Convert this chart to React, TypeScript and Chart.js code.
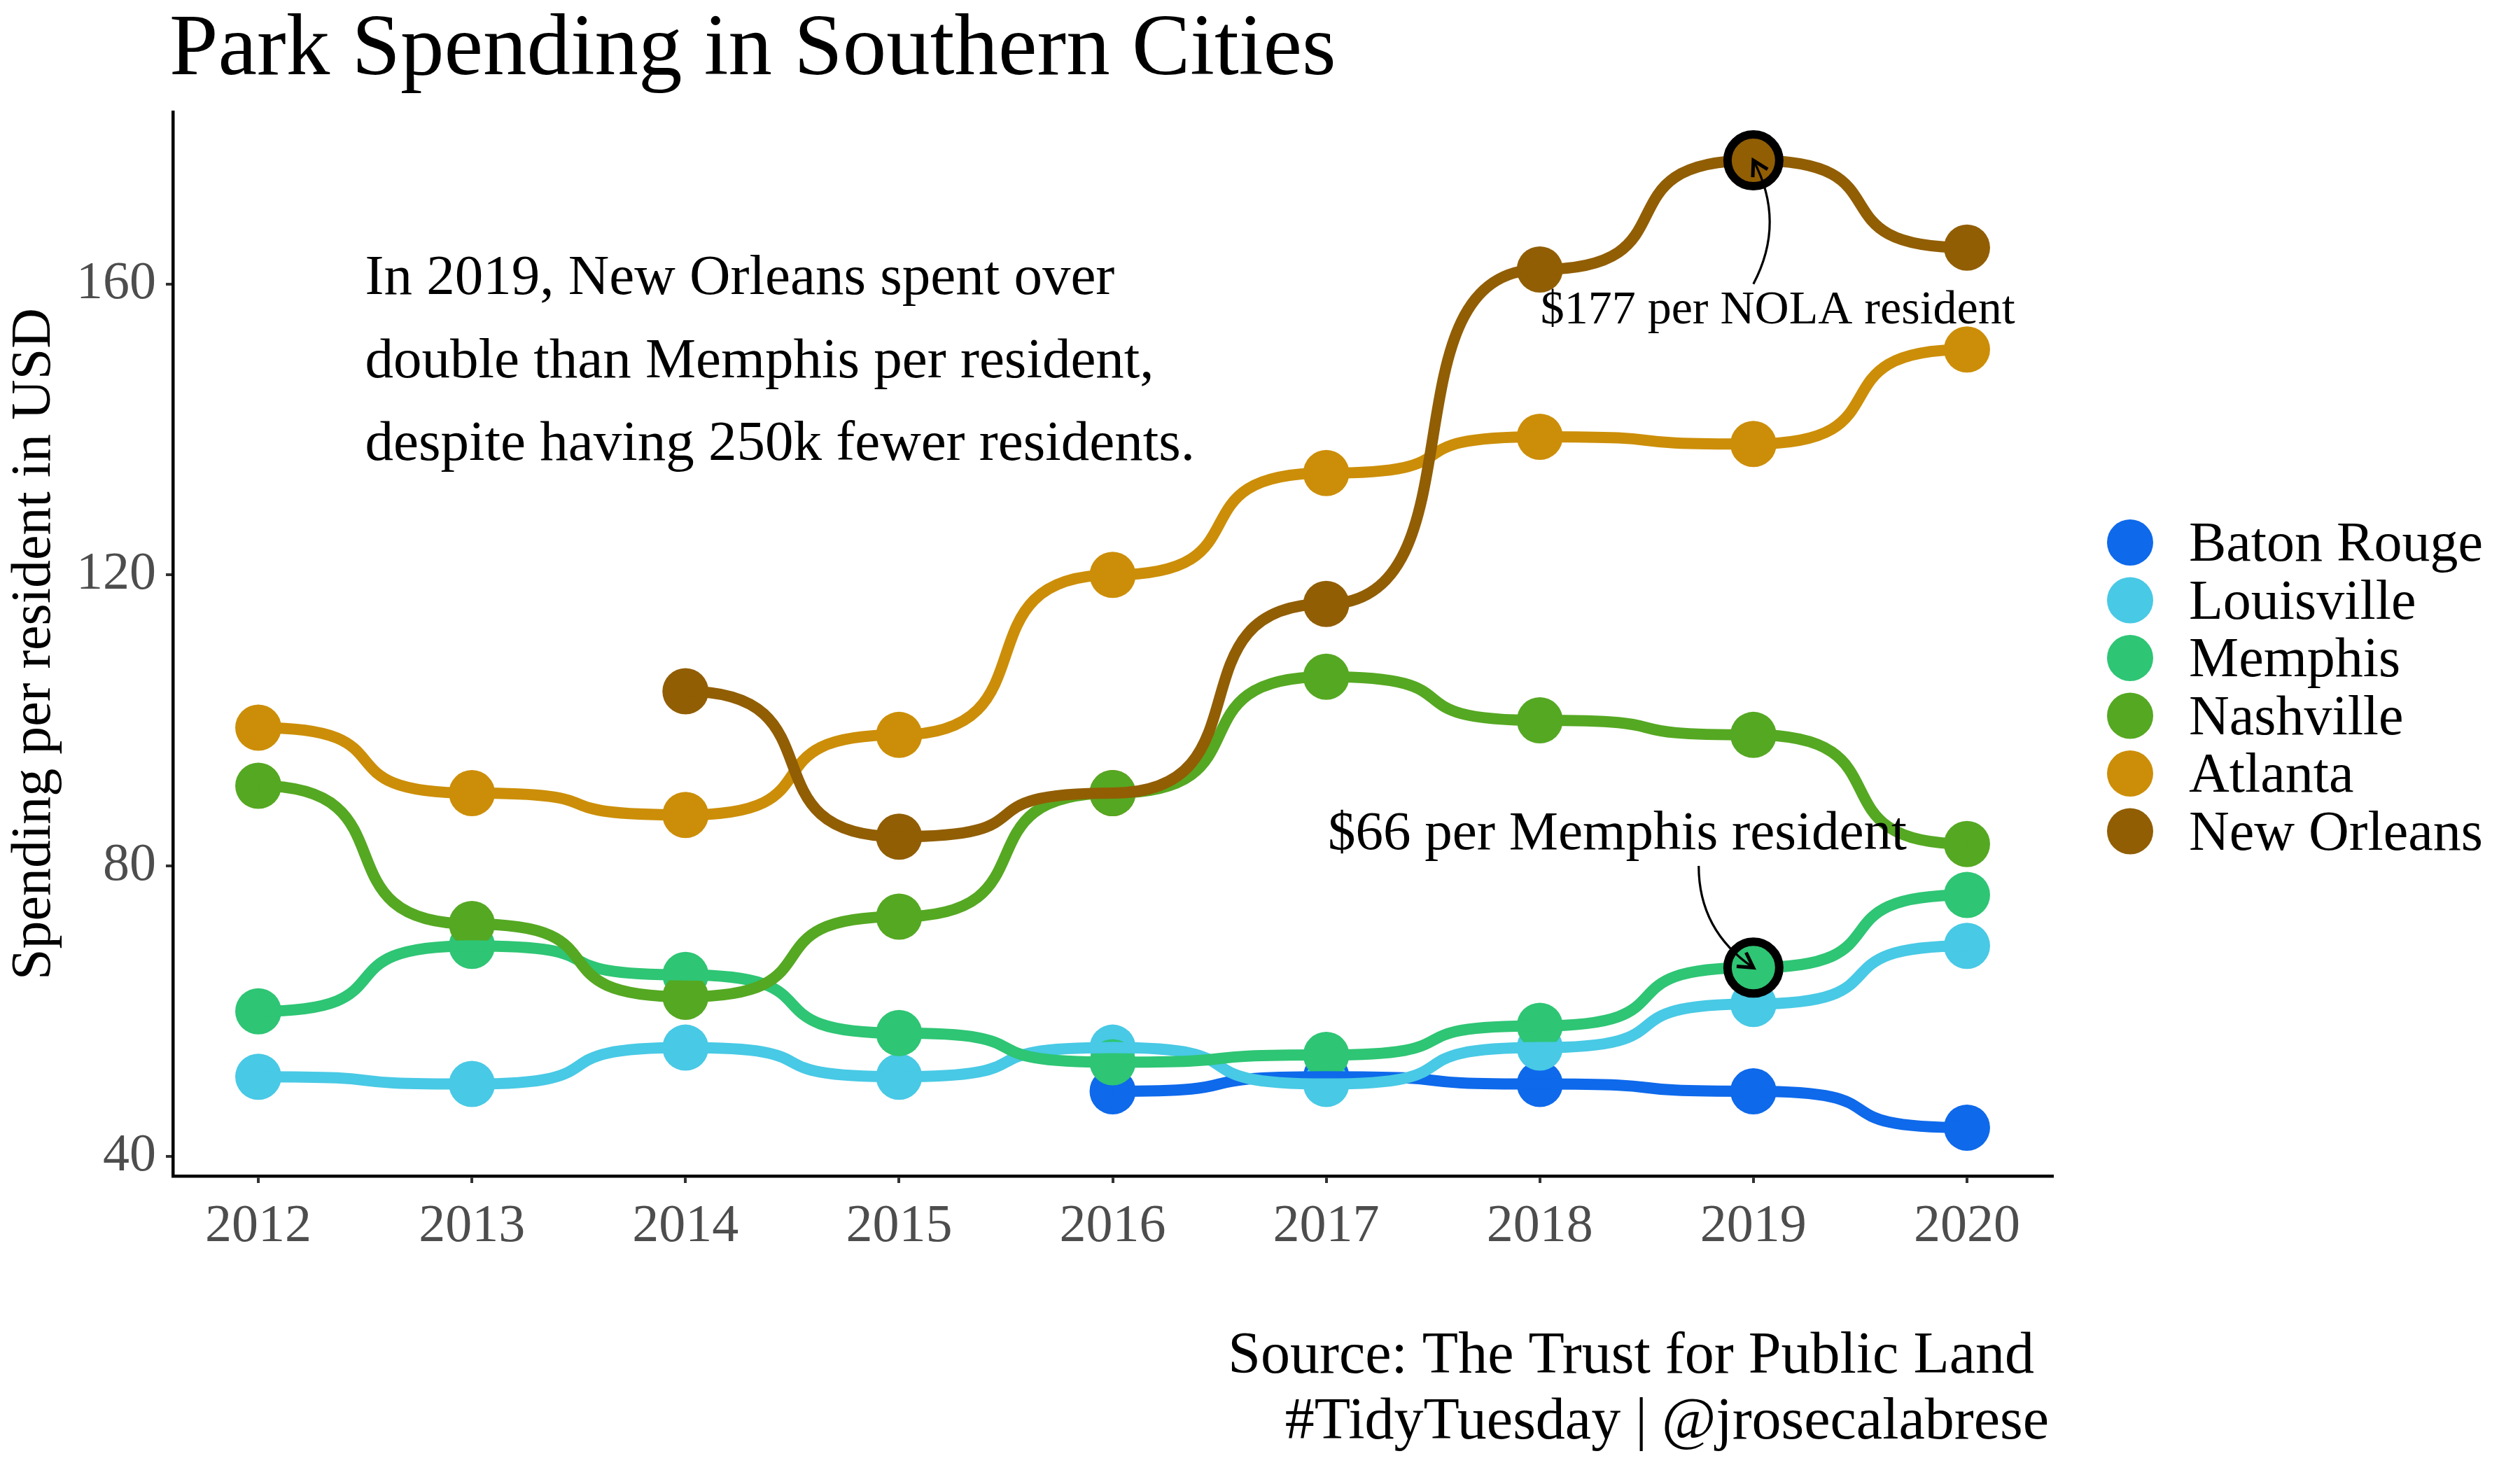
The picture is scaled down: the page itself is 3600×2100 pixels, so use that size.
import React, { useEffect, useRef } from "react";
import { Chart, registerables } from "chart.js";
Chart.register(...registerables);

// ---------- data ----------
const years = [2012, 2013, 2014, 2015, 2016, 2017, 2018, 2019, 2020];
const cities = ["Baton Rouge", "Louisville", "Memphis", "Nashville", "Atlanta", "New Orleans"];
const cityColors = ["#0E69EB", "#48C9E5", "#2EC574", "#55A822", "#CC8E08", "#915E04"];
const batonRouge = [null, null, null, null, 49, 51, 50, 49, 44];
const louisville = [51, 50, 55, 51, 55, 50, 55, 61, 69];
const memphis = [60, 69, 65, 57, 53, 54, 58, 66, 76];
const nashville = [91, 72, 62, 73, 90, 106, 100, 98, 83];
const atlanta = [99, 90, 87, 98, 120, 134, 139, 138, 151];
const newOrleans = [null, null, 104, 84, 90, 116, 162, 177, 165];
const yTicks = [40, 80, 120, 160];
const highlightYear = 2019;

const series: (number | null)[][] = [batonRouge, louisville, memphis, nashville, atlanta, newOrleans];
// draw order of points (higher = further back)
const pointOrder = [10, 9, 8, 5, 7, 6];

const titleText = "Park Spending in Southern Cities";
const yTitle = "Spending per resident in USD";
const noteLines = [
  "In 2019, New Orleans spent over",
  "double than Memphis per resident,",
  "despite having 250k fewer residents.",
];
const nolaLabel = "$177 per NOLA resident";
const memphisLabel = "$66 per Memphis resident";
const captionLines = ["Source: The Trust for Public Land ", "#TidyTuesday | @jrosecalabrese"];

const FONT = '"Liberation Serif", "Times New Roman", serif';
const K = 0.75;

function P(chart: any, x: number, y: number) {
  return { x: chart.scales.x.getPixelForValue(x), y: chart.scales.y.getPixelForValue(y) };
}

function arrow(ctx: CanvasRenderingContext2D, p0: any, c: any, p1: any) {
  ctx.save();
  ctx.strokeStyle = "#000";
  ctx.lineWidth = 3.2;
  ctx.beginPath();
  ctx.moveTo(p0.x, p0.y);
  ctx.quadraticCurveTo(c.x, c.y, p1.x, p1.y);
  ctx.stroke();
  const ang = Math.atan2(p1.y - c.y, p1.x - c.x);
  const len = 24;
  const sp = Math.PI / 6;
  ctx.lineWidth = 5;
  ctx.lineJoin = "miter";
  ctx.beginPath();
  ctx.moveTo(p1.x - len * Math.cos(ang - sp), p1.y - len * Math.sin(ang - sp));
  ctx.lineTo(p1.x, p1.y);
  ctx.lineTo(p1.x - len * Math.cos(ang + sp), p1.y - len * Math.sin(ang + sp));
  ctx.stroke();
  ctx.restore();
}

const bumpLines = {
  id: "bumpLines",
  beforeDatasetDraw(chart: any, args: any) {
    if (args.index !== cities.length) return;
    const ctx = chart.ctx as CanvasRenderingContext2D;
    ctx.save();
    ctx.lineWidth = 16;
    ctx.lineCap = "butt";
    ctx.lineJoin = "round";
    series.forEach((vals, i) => {
      ctx.strokeStyle = cityColors[i];
      ctx.beginPath();
      let prev: any = null;
      years.forEach((yr, j) => {
        const v = vals[j];
        if (v == null) {
          prev = null;
          return;
        }
        const p = P(chart, yr, v);
        if (!prev) ctx.moveTo(p.x, p.y);
        else {
          const dx = p.x - prev.x;
          ctx.bezierCurveTo(prev.x + K * dx, prev.y, p.x - K * dx, p.y, p.x, p.y);
        }
        prev = p;
      });
      ctx.stroke();
    });
    ctx.restore();
  },
};

const decorations = {
  id: "decorations",
  afterDraw(chart: any) {
    const ctx = chart.ctx as CanvasRenderingContext2D;
    ctx.save();
    ctx.fillStyle = "#000";
    ctx.textBaseline = "alphabetic";

    // title
    ctx.font = `125px ${FONT}`;
    ctx.textAlign = "left";
    ctx.fillText(titleText, 242, 106);

    // note paragraph
    ctx.font = `81px ${FONT}`;
    const np = P(chart, 2012.5, 147.2);
    noteLines.forEach((t, i) => ctx.fillText(t, np.x, np.y + (i - 1) * 118.5));

    // annotation labels
    ctx.textAlign = "center";
    ctx.font = `68px ${FONT}`;
    const nl = P(chart, 2019.114, 154.6);
    ctx.fillText(nolaLabel, nl.x, nl.y);
    ctx.font = `79px ${FONT}`;
    const ml = P(chart, 2018.363, 82.3);
    ctx.fillText(memphisLabel, ml.x, ml.y);

    // arrows
    const hi = years.indexOf(highlightYear);
    arrow(ctx, P(chart, 2019.0, 160), P(chart, 2019.153, 168.5), P(chart, highlightYear, newOrleans[hi] as number));
    arrow(ctx, P(chart, 2018.744, 80), P(chart, 2018.744, 71.1), P(chart, highlightYear, memphis[hi] as number));

    // caption
    ctx.textAlign = "right";
    ctx.font = `84px ${FONT}`;
    ctx.fillText(captionLines[0], 2927, 1961);
    ctx.fillText(captionLines[1], 2927, 2055);

    // legend
    ctx.textAlign = "left";
    ctx.font = `80px ${FONT}`;
    cities.forEach((c, i) => {
      const cy = 775 + i * 82.5;
      ctx.fillStyle = cityColors[i];
      ctx.beginPath();
      ctx.arc(3043, cy, 33, 0, Math.PI * 2);
      ctx.fill();
      ctx.fillStyle = "#000";
      ctx.fillText(c, 3127, cy + 26);
    });
    ctx.restore();
  },
};

export default function App() {
  const ref = useRef<HTMLCanvasElement>(null);
  useEffect(() => {
    const canvas = ref.current!;
    const hi = years.indexOf(highlightYear);
    const datasets: any[] = series.map((vals, i) => ({
      label: cities[i],
      data: years
        .map((yr, j) => ({ x: yr, y: vals[j] }))
        .filter((d) => d.y != null),
      showLine: false,
      pointRadius: 33,
      pointHoverRadius: 33,
      pointBorderWidth: 0,
      pointBackgroundColor: cityColors[i],
      borderColor: cityColors[i],
      order: pointOrder[i],
      clip: false,
    }));
    datasets.push({
      label: "highlight",
      data: [
        { x: highlightYear, y: newOrleans[hi] },
        { x: highlightYear, y: memphis[hi] },
      ],
      showLine: false,
      pointRadius: 37,
      pointHoverRadius: 37,
      pointBorderWidth: 12,
      pointBorderColor: "#000",
      pointBackgroundColor: [cityColors[5], cityColors[2]],
      order: 0,
      clip: false,
    });

    const chart = new Chart(canvas, {
      type: "line",
      data: { datasets },
      options: {
        responsive: false,
        animation: false,
        devicePixelRatio: 1,
        events: [],
        layout: { autoPadding: false, padding: { left: 0, top: 160, right: 668, bottom: 0 } },
        plugins: { legend: { display: false }, tooltip: { enabled: false }, title: { display: false } },
        scales: {
          x: {
            type: "linear",
            min: 2011.6,
            max: 2020.4,
            afterFit: (s: any) => {
              s.height = 420;
            },
            afterBuildTicks: (s: any) => {
              s.ticks = years.map((v) => ({ value: v }));
            },
            ticks: {
              callback: (v: any) => String(v),
              font: { family: FONT, size: 76 },
              color: "#4d4d4d",
              padding: 17,
              maxRotation: 0,
              autoSkip: false,
            },
            grid: { display: true, drawOnChartArea: false, drawTicks: true, tickLength: 10, color: "#333333", lineWidth: 4 },
            border: { display: true, color: "#000", width: 4.5 },
          },
          y: {
            type: "linear",
            min: 37.35,
            max: 183.65,
            afterFit: (s: any) => {
              s.width = 247;
            },
            afterBuildTicks: (s: any) => {
              s.ticks = yTicks.map((v) => ({ value: v }));
            },
            ticks: {
              callback: (v: any) => String(v),
              font: { family: FONT, size: 76 },
              color: "#4d4d4d",
              padding: 14,
            },
            title: {
              display: true,
              text: yTitle,
              color: "#000",
              font: { family: FONT, size: 80 },
              padding: { top: 2, bottom: 0 },
            },
            grid: { display: true, drawOnChartArea: false, drawTicks: true, tickLength: 10, color: "#333333", lineWidth: 4 },
            border: { display: true, color: "#000", width: 4.5 },
          },
        },
      },
      plugins: [bumpLines, decorations],
    } as any);
    return () => chart.destroy();
  }, []);
  return (
    <div style={{ position: "fixed", left: 0, top: 0, width: 3600, height: 2100, background: "#fff" }}>
      <canvas ref={ref} width={3600} height={2100} style={{ display: "block", width: 3600, height: 2100 }} />
    </div>
  );
}
